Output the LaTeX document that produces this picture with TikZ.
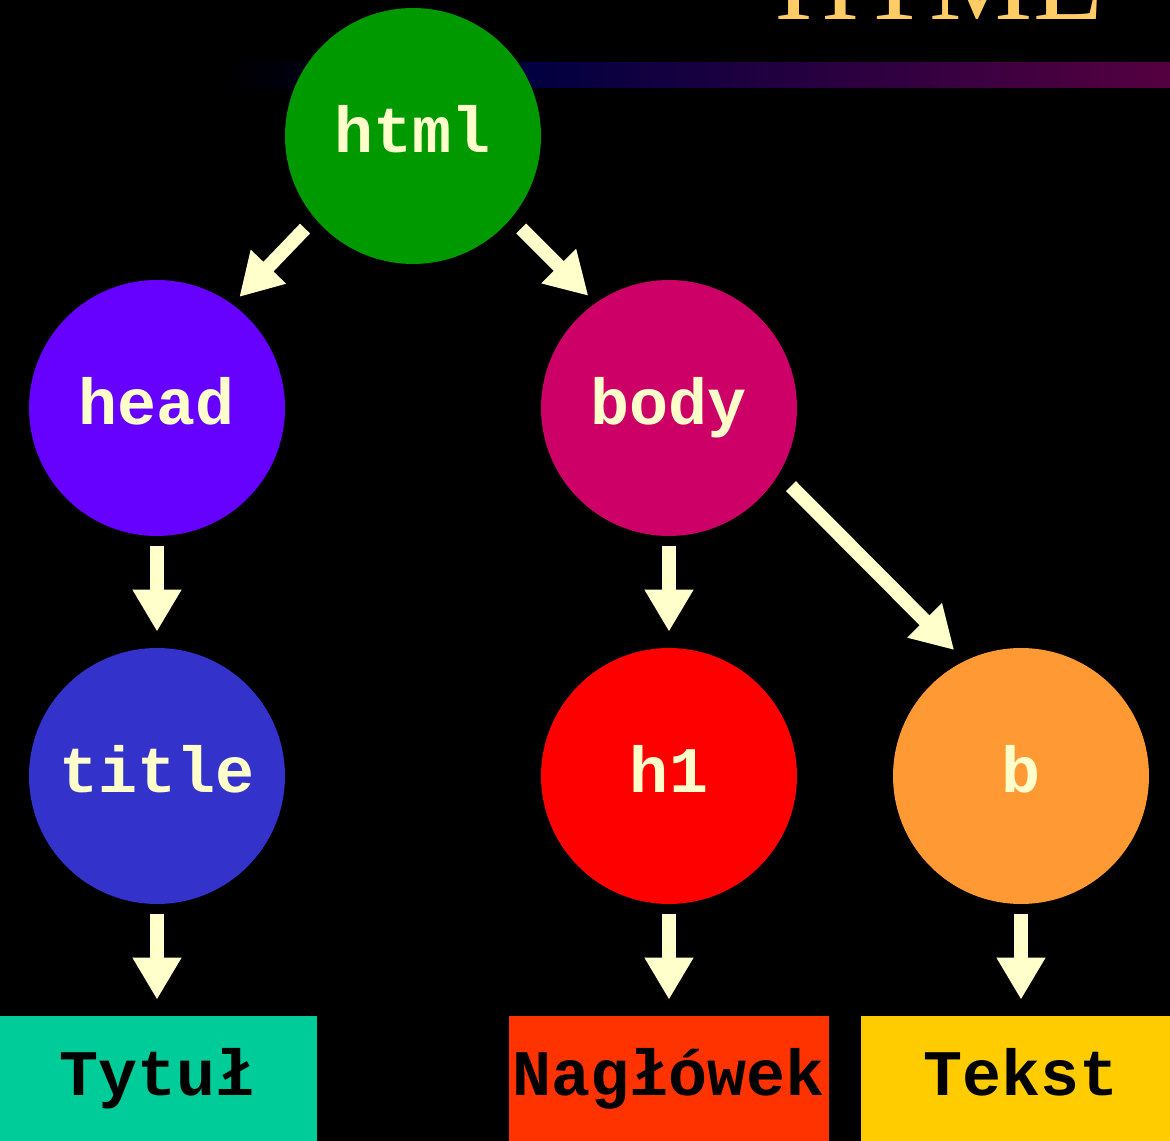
\documentclass[tikz,border=0pt]{standalone}
\usepackage{fontspec}
\newfontfamily\tagfont{Liberation Mono}
\newfontfamily\headfont{Liberation Serif}
\definecolor{htmlgreen}{RGB}{0, 153, 0}
\definecolor{headviolet}{RGB}{102, 0, 255}
\definecolor{bodyrose}{RGB}{204, 0, 102}
\definecolor{titleblue}{RGB}{51, 51, 204}
\definecolor{hred}{RGB}{255, 0, 0}
\definecolor{borange}{RGB}{255, 153, 51}
\definecolor{tytulgreen}{RGB}{0, 204, 153}
\definecolor{naglred}{RGB}{255, 51, 0}
\definecolor{tekstyellow}{RGB}{255, 204, 0}
\definecolor{tagtext}{RGB}{255, 255, 204}
\definecolor{titlegold}{RGB}{255, 204, 102}
\definecolor{barnavy}{RGB}{0, 0, 64}
\definecolor{barplum}{RGB}{85, 0, 64}
\usetikzlibrary{arrows.meta, positioning}

\begin{document}
\begin{tikzpicture}[x=0.02cm, y=-0.02cm,
  tag/.style={circle, minimum size=5.12cm, inner sep=0pt, text=tagtext, text height=0.68cm, text depth=0pt, font=\tagfont\bfseries\fontsize{37}{40}\selectfont},
  leaf/.style={minimum width=6.4cm, minimum height=2.5cm, inner sep=0pt, text=black, text height=0.66cm, text depth=0pt, font=\tagfont\bfseries\fontsize{37}{40}\selectfont},
  link/.style={-{Triangle[length=0.84cm, width=0.92cm]}, line width=0.28cm, draw=tagtext}]

  % Background
  \fill[black] (0,0) rectangle (1170,1141);
  \useasboundingbox (0,0) rectangle (1170,1141);

  % Title bar
  \shade[left color=black, right color=barnavy] (220,63) rectangle (520,88);
  \shade[left color=barnavy, right color=barplum] (520,63) rectangle (1170,88);
  \node[anchor=base west, inner sep=0pt, text=titlegold, font=\headfont\fontsize{66}{70}\selectfont] (heading) at (775,20) {HTML};

  % Tree
  \node[tag, fill=htmlgreen] (html) at (413,136) {html};
  \node[tag, fill=headviolet] (head) at (157,408) {head};
  \node[tag, fill=bodyrose] (body) at (669,408) {body};
  \node[tag, fill=titleblue] (title) at (157,776) {title};
  \node[tag, fill=hred] (h1) at (669,776) {h1};
  \node[tag, fill=borange] (b) at (1021,776) {b};

  % Content
  \node[leaf, fill=tytulgreen] (tytul) at (157,1078.5) {Tytuł};
  \node[leaf, fill=naglred] (naglowek) at (669,1078.5) {Nagłówek};
  \node[leaf, fill=tekstyellow] (tekst) at (1021,1078.5) {Tekst};

  % Arrows
  \draw[link, shorten <=0.28cm, shorten >=0.2cm] (html.220) -- (head.54.5);
  \draw[link, shorten <=0.28cm, shorten >=0.2cm] (html.-40) -- (body.125.5);
  \draw[link, shorten <=0.34cm, shorten >=0.3cm] (body.-31.5) -- (b.116.6);
  \draw[link, shorten <=0.2cm, shorten >=0.32cm] (head.south) -- (title.north);
  \draw[link, shorten <=0.2cm, shorten >=0.32cm] (body.south) -- (h1.north);
  \draw[link, shorten <=0.2cm, shorten >=0.32cm] (title.south) -- (tytul.north);
  \draw[link, shorten <=0.2cm, shorten >=0.32cm] (h1.south) -- (naglowek.north);
  \draw[link, shorten <=0.2cm, shorten >=0.32cm] (b.south) -- (tekst.north);
\end{tikzpicture}
\end{document}
